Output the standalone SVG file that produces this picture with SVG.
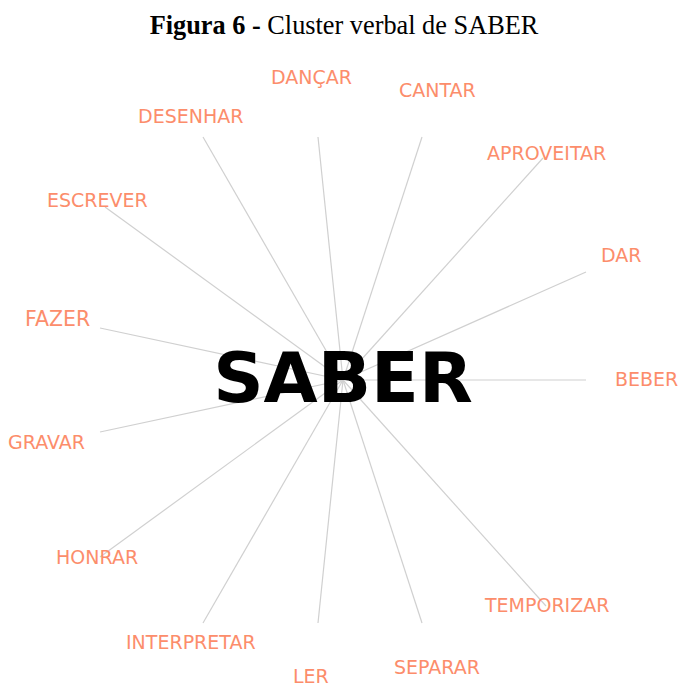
<svg xmlns="http://www.w3.org/2000/svg" width="678" height="688" viewBox="0 0 678 688">
<style>
.t{font-family:"Liberation Serif","Times New Roman",serif;font-size:26.3px;fill:#000}
.lbl{font-family:"DejaVu Sans",sans-serif;font-size:19px;fill:#fc8d6b}
.c{stroke:#d0d0d0;stroke-width:1.2;fill:none}
.hub{font-family:"DejaVu Sans",sans-serif;font-size:70px;font-weight:bold;fill:#000}
</style>
<rect width="678" height="688" fill="#fff"/>
<text class="t" x="344" y="34" text-anchor="middle"><tspan font-weight="bold">Figura 6 -</tspan> Cluster verbal de SABER</text>
<g id="connectors">
<line class="c" x1="343" y1="380" x2="318" y2="137"/>
<line class="c" x1="343" y1="380" x2="422" y2="137"/>
<line class="c" x1="343" y1="380" x2="543" y2="158"/>
<line class="c" x1="343" y1="380" x2="586" y2="272"/>
<line class="c" x1="343" y1="380" x2="586" y2="380"/>
<line class="c" x1="343" y1="380" x2="546" y2="606"/>
<line class="c" x1="343" y1="380" x2="422" y2="623"/>
<line class="c" x1="343" y1="380" x2="318" y2="623"/>
<line class="c" x1="343" y1="380" x2="203" y2="623"/>
<line class="c" x1="343" y1="380" x2="100" y2="557"/>
<line class="c" x1="343" y1="380" x2="100" y2="432"/>
<line class="c" x1="343" y1="380" x2="100" y2="328"/>
<line class="c" x1="343" y1="380" x2="105" y2="207"/>
<line class="c" x1="343" y1="380" x2="203" y2="137"/>
</g>
<g id="saber"><text class="hub" x="343" y="402" text-anchor="middle">SABER</text></g>
<g id="dancar"><text class="lbl" x="271" y="84">DANÇAR</text></g>
<g id="cantar"><text class="lbl" x="399" y="97">CANTAR</text></g>
<g id="desenhar"><text class="lbl" x="138" y="123">DESENHAR</text></g>
<g id="aproveitar"><text class="lbl" x="487" y="160">APROVEITAR</text></g>
<g id="escrever"><text class="lbl" x="47" y="207">ESCREVER</text></g>
<g id="dar"><text class="lbl" x="601" y="262">DAR</text></g>
<g id="fazer"><text class="lbl" x="25" y="326" style="font-size:20.5px">FAZER</text></g>
<g id="beber"><text class="lbl" x="615" y="386">BEBER</text></g>
<g id="gravar"><text class="lbl" x="8" y="449">GRAVAR</text></g>
<g id="honrar"><text class="lbl" x="56" y="564">HONRAR</text></g>
<g id="interpretar"><text class="lbl" x="126" y="649">INTERPRETAR</text></g>
<g id="ler"><text class="lbl" x="293" y="683">LER</text></g>
<g id="separar"><text class="lbl" x="394" y="674">SEPARAR</text></g>
<g id="temporizar"><text class="lbl" x="485" y="612">TEMPORIZAR</text></g>
</svg>
